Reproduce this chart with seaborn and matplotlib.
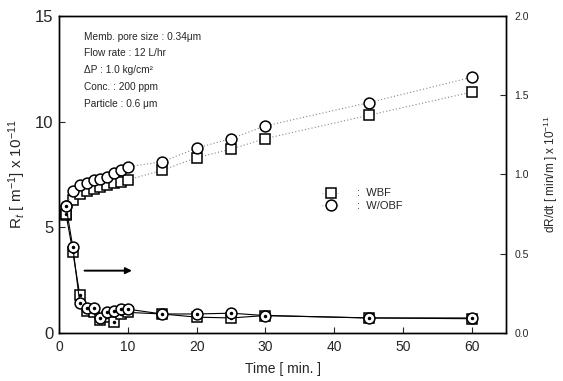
import matplotlib
matplotlib.use("Agg")
import matplotlib.pyplot as plt
import seaborn as sns
import pandas as pd
from matplotlib.lines import Line2D

sns.set_theme(style="ticks")
plt.rcParams["font.family"] = ["Liberation Sans", "DejaVu Sans"]
plt.rcParams["mathtext.fontset"] = "custom"
plt.rcParams["mathtext.rm"] = "Liberation Sans"
plt.rcParams["mathtext.it"] = "Liberation Sans:italic"

# Filtration time [min]
time = [1, 2, 3, 4, 5, 6, 7, 8, 9, 10, 15, 20, 25, 30, 45, 60]

# Total resistance R_t [1/m] x 1e-11 (left axis)
rt_wbf = [5.6, 6.3, 6.6, 6.7, 6.8, 6.9, 7.0, 7.1, 7.15, 7.25, 7.7, 8.3, 8.7, 9.2, 10.3, 11.4]
rt_wobf = [6.0, 6.7, 7.0, 7.1, 7.24, 7.3, 7.4, 7.55, 7.7, 7.87, 8.1, 8.75, 9.2, 9.8, 10.9, 12.1]

# Resistance growth rate dR/dt [min/m] x 1e-11 (right axis)
rate_wbf = [0.75, 0.51, 0.24, 0.14, 0.13, 0.08, 0.10, 0.07, 0.12, 0.13, 0.12, 0.10, 0.095, 0.11, 0.095, 0.09]
rate_wobf = [0.80, 0.54, 0.19, 0.16, 0.16, 0.095, 0.13, 0.14, 0.15, 0.15, 0.12, 0.12, 0.125, 0.11, 0.095, 0.095]

conditions = [
    "Memb. pore size : 0.34μm",
    "Flow rate : 12 L/hr",
    "ΔP : 1.0 kg/cm²",
    "Conc. : 200 ppm",
    "Particle : 0.6 μm",
]

rt = pd.DataFrame({"time": time * 2, "value": rt_wbf + rt_wobf,
                   "case": ["WBF"] * len(time) + ["W/OBF"] * len(time)})
rate = pd.DataFrame({"time": time * 2, "value": rate_wbf + rate_wobf,
                     "case": ["WBF"] * len(time) + ["W/OBF"] * len(time)})

fig = plt.figure(figsize=(5.63, 3.81), dpi=100)
ax = fig.add_axes([0.105, 0.126, 0.794, 0.832])
ax2 = ax.twinx()

mk = dict(markersize=7.8, markerfacecolor="white", markeredgecolor="black", markeredgewidth=1.1)

# Rising resistance curves: dotted connectors
for case, marker in [("WBF", "s"), ("W/OBF", "o")]:
    d = rt[rt["case"] == case]
    sns.lineplot(data=d, x="time", y="value", ax=ax, color="#888888", linestyle=(0, (1, 2)),
                 linewidth=0.8, marker=marker, legend=False, **mk)

# Decaying rate curves: solid connectors, markers with a centre dot
for case, marker in [("WBF", "s"), ("W/OBF", "o")]:
    d = rate[rate["case"] == case]
    sns.lineplot(data=d, x="time", y="value", ax=ax2, color="black", linewidth=0.8,
                 marker=marker, legend=False, **mk)
    ax2.plot(d["time"], d["value"], linestyle="none", marker="o", markersize=1.5, color="black")

ax.set_xlim(0, 65)
ax.set_ylim(0, 15)
ax2.set_ylim(0, 2.0)
ax.set_xticks([0, 10, 20, 30, 40, 50, 60])
ax.set_yticks([0, 5, 10, 15])
ax2.set_yticks([0.0, 0.5, 1.0, 1.5, 2.0])
ax2.set_yticklabels(["0.0", "0.5", "1.0", "1.5", "2.0"])

ax.tick_params(axis="x", direction="in", labelsize=10, length=4, width=0.8, pad=5)
ax.tick_params(axis="y", direction="in", labelsize=12, length=4, width=0.8, pad=4)
ax2.tick_params(axis="y", direction="in", labelsize=7.5, length=4, width=0.8, pad=6)
for a in (ax, ax2):
    for s in a.spines.values():
        s.set_linewidth(1.0)
        s.set_color("black")

ax.set_xlabel("Time [ min. ]", fontsize=10, labelpad=6)
ax.set_ylabel("R$_t$ [ m$^{-1}$] x 10$^{-11}$", fontsize=11, labelpad=5)
ax2.set_ylabel("dR/dt [ min/m ] x 10$^{-11}$", fontsize=8.5, labelpad=9)

for i, line in enumerate(conditions):
    ax.text(0.056, 0.935 - i * 0.053, line, transform=ax.transAxes, fontsize=7.3,
            va="center", ha="left")

# Arrow pointing to the right-hand axis
ax.annotate("", xy=(11, 2.95), xytext=(3.3, 2.95),
            arrowprops=dict(arrowstyle="-|>", color="black", lw=1.4, mutation_scale=9))

# Legend
handles = [Line2D([], [], color="#999999", linestyle=(0, (1, 2)), linewidth=0.6, marker="s", **mk),
           Line2D([], [], color="#999999", linestyle=(0, (1, 2)), linewidth=0.6, marker="o", **mk)]
ax.legend(handles, [":  WBF", ":  W/OBF"], loc="center left", bbox_to_anchor=(0.565, 0.42),
          frameon=False, fontsize=8, handlelength=1.6, handletextpad=1.6, labelspacing=0.25)

fig.savefig("out.png", dpi=100)
